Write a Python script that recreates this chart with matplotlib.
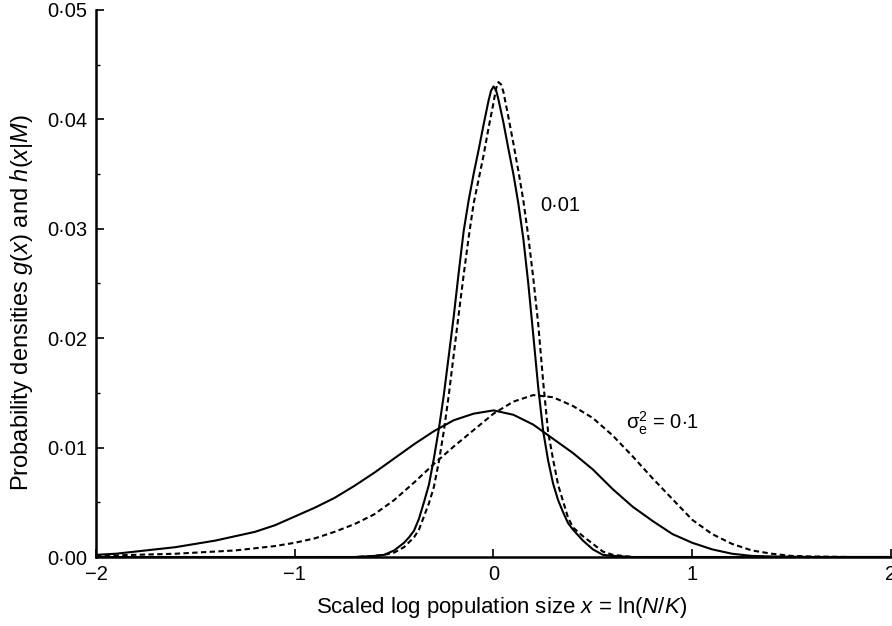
import matplotlib

matplotlib.use("Agg")
import matplotlib.pyplot as plt
from matplotlib.ticker import FuncFormatter, MultipleLocator

plt.rcParams["font.family"] = ["Liberation Sans", "DejaVu Sans"]
plt.rcParams["mathtext.fontset"] = "custom"
plt.rcParams["mathtext.rm"] = "Liberation Sans"
plt.rcParams["mathtext.it"] = "Liberation Sans:italic"
plt.rcParams["mathtext.sf"] = "Liberation Sans"

# sigma_e^2 = 0.01, g(x) (solid)
x_narrow_g = [-2.0, -0.7, -0.6, -0.55, -0.5, -0.45, -0.425, -0.4, -0.375,
              -0.35, -0.325, -0.3, -0.275, -0.25, -0.225, -0.2, -0.175, -0.15,
              -0.125, -0.1, -0.075, -0.05, -0.025, -0.0125, 0.0, 0.0125,
              0.025, 0.05, 0.075, 0.1, 0.125, 0.15, 0.175, 0.2, 0.225, 0.25,
              0.275, 0.3, 0.325, 0.35, 0.375, 0.4, 0.45, 0.5, 0.55, 0.6, 0.7,
              2.0]
y_narrow_g = [0.0, 0.0, 0.0001, 0.0002, 0.0006, 0.0013, 0.0018, 0.0024, 0.0035,
              0.0050, 0.0066, 0.0090, 0.0117, 0.0148, 0.0184, 0.0220, 0.0260,
              0.0298, 0.0326, 0.0350, 0.0372, 0.0395, 0.0417, 0.0426, 0.0430,
              0.0427, 0.0418, 0.0397, 0.0373, 0.0350, 0.0323, 0.0291, 0.0250,
              0.0203, 0.0155, 0.0115, 0.0088, 0.0067, 0.0052, 0.0041, 0.0031,
              0.0025, 0.0015, 0.0007, 0.0002, 0.0001, 0.0, 0.0]

# sigma_e^2 = 0.01, h(x|M) (dashed)
x_narrow_h = [-2.0, -0.7, -0.6, -0.55, -0.5, -0.45, -0.4, -0.375, -0.35,
              -0.325, -0.3, -0.275, -0.25, -0.225, -0.2, -0.175, -0.15, -0.125,
              -0.1, -0.075, -0.05, -0.025, 0.0, 0.0125, 0.025, 0.0375, 0.05,
              0.075, 0.1, 0.125, 0.15, 0.175, 0.2, 0.225, 0.25, 0.275, 0.3,
              0.325, 0.35, 0.375, 0.4, 0.45, 0.5, 0.55, 0.6, 0.65, 0.7, 2.0]
y_narrow_h = [0.0, 0.0, 0.0001, 0.0002, 0.0004, 0.0009, 0.0018, 0.0025, 0.0037,
              0.0049, 0.0064, 0.0087, 0.0115, 0.0148, 0.0185, 0.0222, 0.0258,
              0.0292, 0.0323, 0.0345, 0.0367, 0.0392, 0.0415, 0.0428, 0.0434,
              0.0432, 0.0425, 0.0402, 0.0378, 0.0353, 0.0326, 0.0293, 0.0255,
              0.0213, 0.0160, 0.0114, 0.0089, 0.0066, 0.0051, 0.0036, 0.0027,
              0.0019, 0.0012, 0.0005, 0.0002, 0.0001, 0.0, 0.0]

# sigma_e^2 = 0.1, g(x) (solid)
x_broad_g = [-2.0, -1.9, -1.8, -1.7, -1.6, -1.5, -1.4, -1.3, -1.2, -1.1, -1.0,
             -0.9, -0.8, -0.7, -0.6, -0.5, -0.4, -0.3, -0.2, -0.1, 0.0, 0.1,
             0.2, 0.3, 0.4, 0.5, 0.6, 0.7, 0.8, 0.9, 1.0, 1.1, 1.2, 1.3, 1.4,
             1.6, 2.0]
y_broad_g = [0.0002, 0.0003, 0.0005, 0.0007, 0.0009, 0.0012, 0.0015, 0.0019,
             0.0023, 0.0029, 0.0037, 0.0045, 0.0054, 0.0065, 0.0077, 0.0090,
             0.0103, 0.0115, 0.0125, 0.0131, 0.0134, 0.0130, 0.0121, 0.0108,
             0.0095, 0.0080, 0.0062, 0.0046, 0.0033, 0.0021, 0.0013, 0.0007,
             0.0003, 0.0001, 0.00005, 0.0, 0.0]

# sigma_e^2 = 0.1, h(x|M) (dashed)
x_broad_h = [-2.0, -1.8, -1.6, -1.5, -1.4, -1.3, -1.2, -1.1, -1.0, -0.9, -0.8,
             -0.7, -0.6, -0.5, -0.4, -0.3, -0.2, -0.1, 0.0, 0.1, 0.2, 0.3, 0.4,
             0.5, 0.6, 0.7, 0.8, 0.9, 1.0, 1.1, 1.2, 1.3, 1.4, 1.5, 1.6, 1.8,
             2.0]
y_broad_h = [0.0001, 0.0002, 0.0003, 0.0004, 0.0005, 0.0006, 0.0008, 0.0010,
             0.0013, 0.0017, 0.0023, 0.0030, 0.0039, 0.0052, 0.0068, 0.0085,
             0.0101, 0.0116, 0.0131, 0.0142, 0.0148, 0.0146, 0.0138, 0.0127,
             0.0111, 0.0092, 0.0072, 0.0053, 0.0034, 0.0021, 0.0012, 0.0006,
             0.0003, 0.0001, 0.00005, 0.0, 0.0]

x_ticks = [-2, -1, 0, 1, 2]
y_ticks = [0.0, 0.01, 0.02, 0.03, 0.04, 0.05]


def dot_decimal(v, pos):
    return f"{v:.2f}".replace(".", "\u00b7")


def minus_int(v, pos):
    return f"{int(round(v))}".replace("-", "\u2212")


def main():
    fig = plt.figure(figsize=(8.92, 6.26), dpi=100)
    ax = fig.add_axes([0.1076, 0.1102, 0.8913, 0.874])

    lw = 1.5
    dash = (2.6, 1.6)
    ax.plot(x_broad_g, y_broad_g, color="black", lw=lw)
    ax.plot(x_broad_h, y_broad_h, color="black", lw=lw, dashes=dash)
    ax.plot(x_narrow_g, y_narrow_g, color="black", lw=lw)
    ax.plot(x_narrow_h, y_narrow_h, color="black", lw=lw, dashes=dash)

    ax.set_xlim(-2, 2)
    ax.set_ylim(0, 0.05)
    ax.set_xticks(x_ticks)
    ax.set_yticks(y_ticks)
    ax.yaxis.set_minor_locator(MultipleLocator(0.005))
    ax.xaxis.set_major_formatter(FuncFormatter(minus_int))
    ax.yaxis.set_major_formatter(FuncFormatter(dot_decimal))

    for side in ["top", "right"]:
        ax.spines[side].set_visible(False)
    for side in ["left", "bottom"]:
        ax.spines[side].set_linewidth(1.8)
        ax.spines[side].set_clip_on(False)

    ax.tick_params(axis="both", which="major", direction="in", length=6,
                   width=1.2, labelsize=14.5, pad=6)
    ax.tick_params(axis="y", which="minor", direction="in", length=3, width=1.0)

    # axis titles placed where the reference has them
    fig.text(502 / 892, 1 - 608 / 626,
             r"Scaled log population size $x$ = ln($N$/$K$)",
             fontsize=16, ha="center", va="center")
    fig.text(22 / 892, 1 - 302 / 626,
             r"Probability densities $g$($x$) and $h$($x$|$M$)",
             fontsize=17, ha="center", va="center", rotation=90)

    ax.text(0.236, 0.0321, "0\u00b701", fontsize=14.5, ha="left", va="center")
    ax.text(0.668, 0.0122, r"$\mathrm{\sigma}_{\mathrm{e}}^{2}$ = 0$\cdot$1",
            fontsize=14.5, ha="left", va="center")

    fig.savefig("out.png", dpi=100)


if __name__ == "__main__":
    main()
